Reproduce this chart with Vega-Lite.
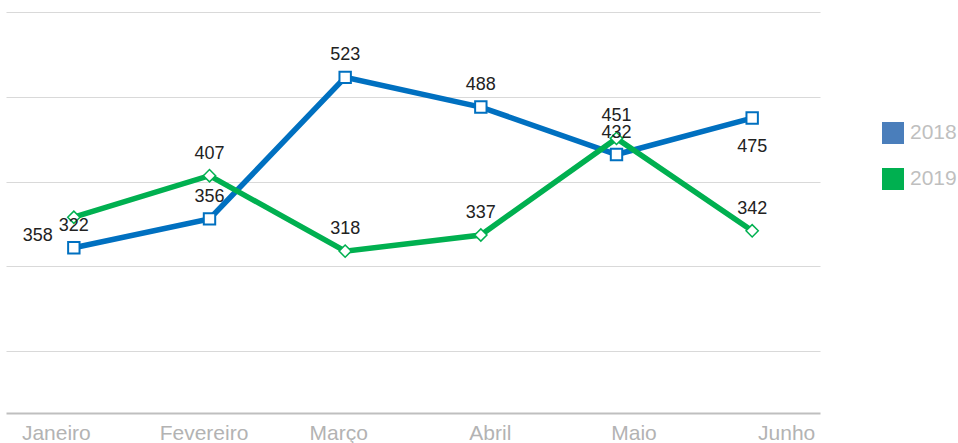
{
  "$schema": "https://vega.github.io/schema/vega-lite/v6.json",
  "width": 814,
  "height": 413,
  "autosize": "none",
  "padding": {"left": 6, "top": 0, "right": 138, "bottom": 30},
  "config": {"view": {"stroke": null}},
  "data": {
    "values": [
      {"month": "Janeiro", "year": "2018", "value": 322},
      {"month": "Fevereiro", "year": "2018", "value": 356},
      {"month": "Março", "year": "2018", "value": 523},
      {"month": "Abril", "year": "2018", "value": 488},
      {"month": "Maio", "year": "2018", "value": 432},
      {"month": "Junho", "year": "2018", "value": 475},
      {"month": "Janeiro", "year": "2019", "value": 358},
      {"month": "Fevereiro", "year": "2019", "value": 407},
      {"month": "Março", "year": "2019", "value": 318},
      {"month": "Abril", "year": "2019", "value": 337},
      {"month": "Maio", "year": "2019", "value": 451},
      {"month": "Junho", "year": "2019", "value": 342}
    ]
  },
  "encoding": {
    "x": {
      "field": "month",
      "type": "ordinal",
      "sort": ["Janeiro", "Fevereiro", "Março", "Abril", "Maio", "Junho"],
      "scale": {"type": "point", "padding": 0.5},
      "axis": {
        "title": null,
        "ticks": false,
        "grid": false,
        "domainColor": "#bfbfbf",
        "domainWidth": 2,
        "labelFont": "Liberation Sans",
        "labelFontSize": 21,
        "labelColor": "#b3b3b3",
        "labelPadding": 9,
        "labelAngle": 0,
        "labelOffset": {
          "condition": [
            {"test": "datum.value=='Janeiro'", "value": -18},
            {"test": "datum.value=='Fevereiro'", "value": -6},
            {"test": "datum.value=='Março'", "value": -7},
            {"test": "datum.value=='Abril'", "value": 9},
            {"test": "datum.value=='Maio'", "value": 17}
          ],
          "value": 34
        }
      }
    },
    "y": {
      "field": "value",
      "type": "quantitative",
      "scale": {"domain": [127, 614.3], "zero": false, "nice": false},
      "axis": {
        "title": null,
        "labels": false,
        "ticks": false,
        "domain": false,
        "values": [200, 300, 400, 500, 600],
        "gridColor": "#d9d9d9",
        "gridWidth": 1
      }
    }
  },
  "layer": [
    {
      "mark": {"type": "line", "strokeWidth": 5.5},
      "encoding": {
        "color": {
          "field": "year",
          "type": "nominal",
          "scale": {"domain": ["2018", "2019"], "range": ["#0070c0", "#00b050"]},
          "legend": {
            "title": null,
            "orient": "none",
            "legendX": 876,
            "legendY": 122,
            "symbolType": "square",
            "symbolSize": 484,
            "symbolStrokeWidth": 0,
            "rowPadding": 24,
            "labelFont": "Liberation Sans",
            "labelFontSize": 21,
            "labelColor": "#bfbfbf",
            "labelOffset": 6,
            "encode": {
              "symbols": {
                "update": {
                  "fill": {"signal": "datum.value=='2018'?'#4a7ebb':'#00b050'"},
                  "fillOpacity": {"value": 1},
                  "strokeWidth": {"value": 0}
                }
              }
            }
          }
        }
      }
    },
    {
      "transform": [{"filter": "datum.year=='2018'"}],
      "mark": {"type": "point", "shape": "square", "size": 130, "filled": false, "fill": "white", "fillOpacity": 1, "stroke": "#0070c0", "strokeWidth": 2, "opacity": 1}
    },
    {
      "transform": [{"filter": "datum.year=='2019'"}],
      "mark": {"type": "point", "shape": "diamond", "size": 150, "filled": false, "fill": "white", "fillOpacity": 1, "stroke": "#00b050", "strokeWidth": 1.5, "opacity": 1}
    },
    {
      "transform": [{"filter": "!(datum.year=='2018'&&datum.month=='Junho') && !(datum.year=='2019'&&datum.month=='Janeiro')"}],
      "mark": {"type": "text", "dy": -22, "fontSize": 18, "font": "Liberation Sans", "color": "#222222"},
      "encoding": {"text": {"field": "value", "type": "quantitative"}}
    },
    {
      "transform": [{"filter": "datum.year=='2018'&&datum.month=='Junho'"}],
      "mark": {"type": "text", "dy": 29, "fontSize": 18, "font": "Liberation Sans", "color": "#222222"},
      "encoding": {"text": {"field": "value", "type": "quantitative"}}
    },
    {
      "transform": [{"filter": "datum.year=='2019'&&datum.month=='Janeiro'"}],
      "mark": {"type": "text", "dx": -36, "dy": 19, "fontSize": 18, "font": "Liberation Sans", "color": "#222222"},
      "encoding": {"text": {"field": "value", "type": "quantitative"}}
    }
  ]
}
